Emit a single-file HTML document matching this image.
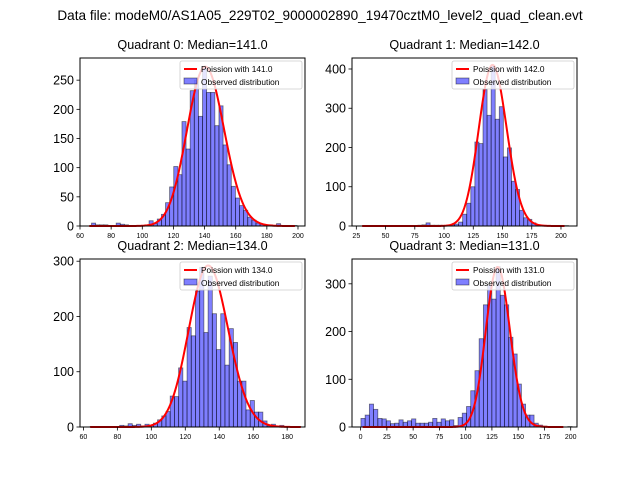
<!DOCTYPE html>
<html><head><meta charset="utf-8"><style>
body{margin:0;background:#fff;}
svg{display:block;font-family:"Liberation Sans","DejaVu Sans",sans-serif;}
</style></head><body>
<svg id="fig" width="640" height="480">
<rect width="640" height="480" fill="#fff"/>
<text x="320" y="20" text-anchor="middle" font-size="13.6">Data file: modeM0/AS1A05_229T02_9000002890_19470cztM0_level2_quad_clean.evt</text>
</svg>
<script>
const q0Counts=[5,2,2,2,0,0,5,3,2,1,1,1,1,2,9,4,12,20,40,67,102,88,179,132,232,250,188,273,229,229,172,206,139,105,68,48,35,27,15,10,5,3,1,2,1,4,1,0,0,1];
const q1Counts=[1,0,0,0,0,0,0,0,0,0,0,0,0,2,3,8,2,2,2,1,2,3,5,10,30,58,100,214,210,348,282,408,272,304,176,199,114,93,40,21,17,8,1,0,0,0,0,0,0,1];
const q2Counts=[1,0,0,0,0,0,0,3,2,6,3,5,2,5,3,7,13,20,28,56,55,107,83,180,165,246,289,171,273,205,140,205,112,178,153,83,83,31,48,27,27,11,2,5,1,3,0,0,0,1];
const q3Counts=[18,25,48,37,18,17,13,7,8,15,10,13,17,8,8,8,10,18,10,17,13,15,3,20,29,43,76,118,185,256,297,268,336,276,256,188,153,90,48,25,25,8,4,2,1,1,0,0,0,1];
const binStarts=[67.4,32.4,64,0.3];
const binWidths=[2.64,3.48,2.48,4.02];
const medians=[141,142,134,131];
const curvePeaks=[273,410,292,335];
const curveRanges=[[66,198],[30,203],[64,188],[2,193]];
const xLims=[[60,204.5],[21.3,213.7],[58,190.5],[-8.2,206]];
const yLims=[[0,288],[0,428],[0,304],[0,352]];
const xTicks=[[60,80,100,120,140,160,180,200],[25,50,75,100,125,150,175,200],[60,80,100,120,140,160,180],[0,25,50,75,100,125,150,175,200]];
const yTicks=[[0,50,100,150,200,250],[0,100,200,300,400],[0,100,200,300],[0,100,200,300]];
const allCounts=[q0Counts,q1Counts,q2Counts,q3Counts];
const boxes=[[80,58,305,226],[352,58,577,226],[80,259,305,427],[352,259,577,427]];
const NS="http://www.w3.org/2000/svg";
const svg=document.getElementById('fig');
function mk(tag,attrs,parent){const e=document.createElementNS(NS,tag);for(const k in attrs)e.setAttribute(k,attrs[k]);(parent||svg).appendChild(e);return e;}
function lgamma(z){return (z-0.5)*Math.log(z)-z+0.5*Math.log(2*Math.PI)+1/(12*z)-1/(360*z*z*z);}
function pois(k,l){return Math.exp(k*Math.log(l)-l-lgamma(k+1)-(l*Math.log(l)-l-lgamma(l+1)));}
for(let q=0;q<4;q++){
  const [L,T,R,B]=boxes[q];
  const g=mk('g',{});
  
  
  const xs=v=>L+(v-xLims[q][0])/(xLims[q][1]-xLims[q][0])*(R-L);
  const ys=v=>B-(v-yLims[q][0])/(yLims[q][1]-yLims[q][0])*(B-T);
  const t=mk('text',{x:(L+R)/2,y:T-9,'text-anchor':'middle','font-size':'12.6'},g);
  t.textContent='Quadrant '+q+': Median='+medians[q].toFixed(1);
  
  
  const c=allCounts[q];
  for(let i=0;i<c.length;i++){
    if(c[i]<=0)continue;
    const x0=xs(binStarts[q]+i*binWidths[q]),x1=xs(binStarts[q]+(i+1)*binWidths[q]);
    const r=mk('rect',{x:x0,y:ys(c[i]),width:x1-x0,height:ys(0)-ys(c[i]),fill:'rgba(0,0,255,0.5)',stroke:'rgba(0,0,0,0.5)','stroke-width':'0.8'},g);
    
    
  }
  let d='';const [a,b]=curveRanges[q];
  for(let k=a;k<=b;k+=0.5){d+=(d?'L':'M')+xs(k).toFixed(2)+','+ys(curvePeaks[q]*pois(k,medians[q])).toFixed(2);}
  const p=mk('path',{d:d,fill:'none',stroke:'red','stroke-width':'2'},g);
  
  
  const fr=mk('rect',{x:L,y:T,width:R-L,height:B-T,fill:'none',stroke:'#000','stroke-width':'1'},g);
  
  
  for(const v of xTicks[q]){
    const x=xs(v);
    mk('line',{x1:x,x2:x,y1:B,y2:B+3.5,stroke:'#000','stroke-width':'0.8'},g);
    const tx=mk('text',{x:x,y:B+12,'text-anchor':'middle','font-size':'7'},g);
    tx.textContent=v;
    
    
  }
  for(const v of yTicks[q]){
    const y=ys(v);
    mk('line',{x1:L-3.5,x2:L,y1:y,y2:y,stroke:'#000','stroke-width':'0.8'},g);
    const ty=mk('text',{x:L-6,y:y+4.5,'text-anchor':'end','font-size':'12.5'},g);
    ty.textContent=v;
    
    
  }
  const lg=mk('g',{},g);
  
  
  mk('rect',{x:R-125,y:T+3,width:122,height:28,fill:'rgba(255,255,255,0.8)',stroke:'#ccc','stroke-width':'0.8',rx:'2'},lg);
  mk('line',{x1:R-121,x2:R-108,y1:T+11,y2:T+11,stroke:'red','stroke-width':'2'},lg);
  const l1=mk('text',{x:R-104,y:T+14,'font-size':'8.3'},lg);l1.textContent='Poission with '+medians[q].toFixed(1);
  
  
  mk('rect',{x:R-121,y:T+20,width:13,height:6,fill:'rgba(0,0,255,0.5)',stroke:'rgba(0,0,0,0.5)','stroke-width':'0.8'},lg);
  const l2=mk('text',{x:R-104,y:T+27,'font-size':'8.3'},lg);l2.textContent='Observed distribution';
  
  
}
</script>
</body></html>
